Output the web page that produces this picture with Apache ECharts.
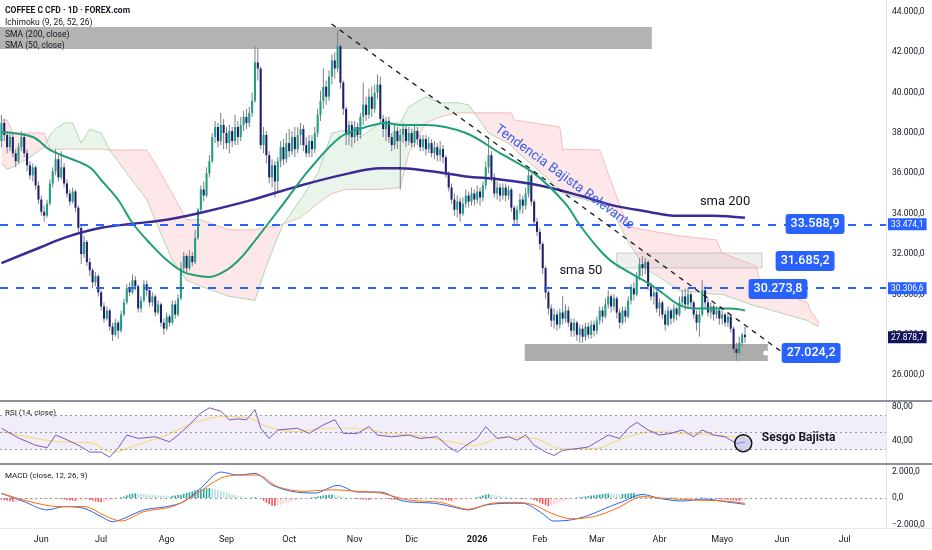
<!DOCTYPE html>
<html>
<head>
<meta charset="utf-8">
<script src="https://cdn.jsdelivr.net/npm/echarts@6.0.0/dist/echarts.min.js"></script>
<style>
html,body{margin:0;padding:0;background:#ffffff;}
#chart{width:932px;height:550px;}
</style>
</head>
<body>
<div id="chart"></div>
<script>
// ---------- calendar (daily trading sessions, weekdays) ----------
const firstDay = [2025, 4, 13];
const dayCount = 311;
const monthNames = ['Ene','Feb','Mar','Abr','Mayo','Jun','Jul','Ago','Sep','Oct','Nov','Dic'];

// ---------- price candles (thousands) ----------
const opens = [
37.6,38.5,37.9,37.3,37.8,37.0,36.6,37.3,37.8,37.0,
36.4,35.9,36.3,35.4,34.7,34.1,33.9,34.5,35.5,36.1,
36.7,35.8,36.3,35.5,35.0,34.6,35.1,34.3,33.3,32.0,
32.6,31.6,31.2,30.6,30.9,30.1,29.4,28.8,29.2,28.4,
28.0,28.6,28.2,29.0,29.6,30.3,30.1,30.7,30.4,29.3,
29.7,30.5,30.2,29.6,29.9,29.1,29.5,28.6,28.3,28.9,
28.6,29.5,29.0,29.8,31.3,31.9,31.3,31.9,31.6,32.8,
34.2,35.2,34.9,36.0,36.6,37.8,38.3,37.6,38.4,38.0,
37.5,38.1,37.6,38.3,37.8,38.4,38.8,38.5,39.0,39.6,
41.5,41.2,37.4,37.9,36.9,35.8,36.4,35.6,36.6,37.3,
36.7,37.5,37.1,37.8,37.2,37.9,38.2,37.4,37.0,37.6,
37.2,38.0,38.9,39.6,40.3,39.8,40.8,41.6,41.2,42.3,
40.5,39.2,37.9,38.4,37.8,38.3,37.9,38.8,39.4,38.9,
39.8,39.2,40.0,40.4,38.7,38.2,38.6,37.8,37.4,38.1,
37.6,37.9,38.2,37.6,38.0,37.5,38.1,37.7,37.3,37.7,
37.2,37.5,37.0,37.3,36.9,37.2,36.8,36.0,35.3,34.7,
34.2,34.6,34.0,34.5,34.9,34.6,35.0,34.7,35.1,34.8,
35.4,36.3,36.9,35.8,35.0,35.3,34.9,35.3,34.9,35.2,
34.3,33.7,34.2,34.7,34.4,35.0,35.9,34.6,33.6,33.1,
32.5,31.3,30.1,29.3,28.7,29.0,28.5,29.1,28.8,29.2,
28.6,28.2,28.6,28.0,28.3,27.9,28.4,28.0,28.5,28.2,
28.7,29.2,28.9,29.5,29.9,29.4,29.8,29.1,28.6,29.2,
28.9,29.7,30.3,30.0,30.9,31.5,31.3,31.6,30.4,29.9,
30.1,29.3,29.6,29.0,28.5,29.2,28.8,29.3,29.0,29.6,
29.9,29.5,30.0,29.6,29.0,28.6,29.0,30.2,29.6,29.1,
29.4,29.0,29.2,28.8,29.0,28.6,28.9,28.3,27.3,27.1,
27.6,28.0];
const closes = [
38.5,37.9,37.3,37.8,37.0,36.6,37.3,37.8,37.0,36.4,
35.9,36.3,35.4,34.7,34.1,33.9,34.5,35.5,36.1,36.7,
35.8,36.3,35.5,35.0,34.6,35.1,34.3,33.3,32.0,32.6,
31.6,31.2,30.6,30.9,30.1,29.4,28.8,29.2,28.4,28.0,
28.6,28.2,29.0,29.6,30.3,30.1,30.7,30.4,29.3,29.7,
30.5,30.2,29.6,29.9,29.1,29.5,28.6,28.3,28.9,28.6,
29.5,29.0,29.8,31.3,31.9,31.3,31.9,31.6,32.8,34.2,
35.2,34.9,36.0,36.6,37.8,38.3,37.6,38.4,38.0,37.5,
38.1,37.6,38.3,37.8,38.4,38.8,38.5,39.0,39.6,41.5,
41.2,37.4,37.9,36.9,35.8,36.4,35.6,36.6,37.3,36.7,
37.5,37.1,37.8,37.2,37.9,38.2,37.4,37.0,37.6,37.2,
38.0,38.9,39.6,40.3,39.8,40.8,41.6,41.2,42.3,40.5,
39.2,37.9,38.4,37.8,38.3,37.9,38.8,39.4,38.9,39.8,
39.2,40.0,40.4,38.7,38.2,38.6,37.8,37.4,38.1,37.6,
37.9,38.2,37.6,38.0,37.5,38.1,37.7,37.3,37.7,37.2,
37.5,37.0,37.3,36.9,37.2,36.8,36.0,35.3,34.7,34.2,
34.6,34.0,34.5,34.9,34.6,35.0,34.7,35.1,34.8,35.4,
36.3,36.9,35.8,35.0,35.3,34.9,35.3,34.9,35.2,34.3,
33.7,34.2,34.7,34.4,35.0,35.9,34.6,33.6,33.1,32.5,
31.3,30.1,29.3,28.7,29.0,28.5,29.1,28.8,29.2,28.6,
28.2,28.6,28.0,28.3,27.9,28.4,28.0,28.5,28.2,28.7,
29.2,28.9,29.5,29.9,29.4,29.8,29.1,28.6,29.2,28.9,
29.7,30.3,30.0,30.9,31.5,31.3,31.6,30.4,29.9,30.1,
29.3,29.6,29.0,28.5,29.2,28.8,29.3,29.0,29.6,29.9,
29.5,30.0,29.6,29.0,28.6,29.0,30.2,29.6,29.1,29.4,
29.0,29.2,28.8,29.0,28.6,28.9,28.3,27.3,27.1,27.6,
28.0,27.88];
const lows = [
37.3,37.6,37.0,37.1,36.8,36.3,36.5,37.1,36.8,36.1,
35.7,35.6,35.2,34.5,33.9,33.6,33.8,34.4,35.3,35.9,
35.6,35.7,35.3,34.8,34.4,34.5,34.1,33.1,31.5,31.8,
31.4,30.9,30.3,30.4,29.9,29.2,28.6,28.7,28.2,27.7,
27.9,27.8,28.1,28.9,29.5,29.9,30.0,30.2,29.1,29.1,
29.6,29.9,29.4,29.4,28.9,29.0,28.4,28.0,28.2,28.4,
28.5,28.8,28.9,29.7,31.1,31.1,31.2,31.4,31.5,32.7,
34.0,34.6,34.8,35.8,36.5,37.5,37.3,37.4,37.2,37.2,
37.0,37.3,37.4,37.4,37.6,38.1,38.2,38.3,38.8,39.5,
40.6,37.2,37.0,36.5,35.5,35.3,34.8,35.0,36.3,36.4,
36.5,36.8,36.9,36.8,37.0,37.4,37.1,36.8,36.8,36.8,
37.0,37.8,38.6,39.2,39.4,39.6,40.4,40.7,41.0,40.2,
38.9,37.4,37.4,37.3,37.5,37.6,37.7,38.4,38.6,38.7,
38.8,39.0,39.7,38.5,37.8,37.6,37.5,37.1,37.2,37.2,
35.2,37.5,37.3,37.4,37.3,37.3,37.4,37.1,37.1,36.9,
37.0,36.8,36.7,36.6,36.6,36.5,35.8,35.1,34.5,33.9,
33.8,33.6,33.9,34.3,34.3,34.4,34.4,34.5,34.4,34.6,
35.2,36.0,35.6,34.8,34.7,34.6,34.7,34.6,34.7,34.1,
33.4,33.5,34.0,34.0,34.2,34.8,34.4,33.4,32.9,32.2,
31.0,29.8,29.0,28.4,28.3,28.2,28.3,28.5,28.6,28.4,
27.9,27.9,27.7,27.6,27.6,27.7,27.8,27.8,27.9,28.0,
28.5,28.6,28.8,29.3,29.1,29.2,28.8,28.3,28.5,28.6,
28.8,29.5,29.7,29.9,30.7,30.9,31.0,30.2,29.7,29.5,
29.1,28.9,28.8,28.2,28.4,28.5,28.6,28.7,28.9,29.4,
29.2,29.3,29.3,28.8,28.2,27.9,28.9,29.3,28.9,28.8,
28.7,28.8,28.5,28.5,28.4,28.4,28.1,27.1,26.7,27.0,
27.4,27.6];
const highs = [
38.9,38.7,38.1,38.0,38.0,37.2,37.5,38.1,38.0,37.2,
36.6,36.5,36.4,35.6,34.9,34.4,34.7,35.7,36.3,37.2,
36.9,37.1,36.5,35.7,35.2,35.3,35.2,34.4,33.4,32.9,
32.7,31.8,31.3,31.1,31.0,30.2,29.6,29.4,29.3,28.6,
28.8,28.7,29.2,29.8,30.5,30.6,31.0,30.9,30.5,29.9,
30.7,30.7,30.3,30.1,30.0,29.7,29.6,28.8,29.1,29.0,
29.7,29.7,30.0,31.6,32.1,32.0,32.2,32.1,33.2,34.3,
35.4,35.6,36.3,36.9,38.0,38.6,38.5,39.0,38.7,38.3,
38.4,38.3,38.9,38.6,38.8,39.1,39.2,39.3,40.0,42.3,
42.2,41.3,38.3,38.1,37.1,36.7,36.6,36.8,37.6,37.7,
38.0,38.2,38.1,38.3,38.3,38.5,38.4,37.8,37.9,37.9,
38.3,39.2,40.1,41.2,40.6,41.1,41.9,42.0,43.1,42.4,
40.6,39.3,38.6,38.6,38.6,38.5,39.0,40.5,39.8,40.2,
40.3,40.4,40.9,40.8,38.9,38.8,38.8,38.0,38.4,38.3,
38.2,38.5,38.4,38.3,38.2,38.4,38.3,37.9,37.9,37.9,
37.8,37.7,37.6,37.5,37.6,37.4,36.9,36.1,35.5,35.0,
34.9,34.8,34.8,35.2,35.1,35.3,35.2,35.4,35.3,35.6,
36.6,37.7,37.1,36.0,35.6,35.5,35.5,35.5,35.4,35.3,
34.4,34.4,35.0,34.9,35.3,36.2,36.0,34.7,33.8,33.3,
32.6,31.4,30.2,29.5,29.3,29.2,29.3,29.9,29.5,29.4,
28.8,28.8,28.7,28.5,28.5,28.6,28.6,28.7,28.7,28.9,
29.4,29.4,29.8,30.2,30.0,30.0,29.9,29.3,29.4,29.4,
29.9,30.5,30.6,31.1,31.8,31.9,31.8,31.7,30.6,30.3,
30.2,29.8,29.7,29.2,29.4,29.3,29.5,29.4,29.9,30.2,
30.3,30.3,30.1,29.7,29.2,29.2,30.7,30.4,29.8,29.6,
29.5,29.4,29.3,29.2,29.1,29.1,29.0,28.4,27.6,27.9,
28.1,28.4];

// ---------- moving averages (session index, thousands) ----------
const sma200Idx = [0,14,23,35,46,58,70,87,105,122,133,140,151,163,175,189,203,215,227,236,250,261];
const sma200Val = [31.55,32.35,32.85,33.3,33.5,33.7,34.05,34.65,35.4,36.0,36.25,36.25,36.1,35.85,35.7,35.4,34.9,34.4,34.1,33.9,33.9,33.8];
const sma50Idx = [0,11,17,23,31,35,41,46,52,58,64,70,73,79,84,87,99,108,119,128,135,140,149,163,175,187,198,203,210,215,227,232,238,244,256,261];
const sma50Val = [38.05,37.8,37.16,36.8,36.3,35.67,34.68,33.54,32.55,31.7,31.1,30.9,30.86,31.2,31.8,32.3,34.5,36.17,37.8,38.3,38.5,38.4,38.4,38.0,37.0,36.0,34.5,33.44,32.2,31.55,30.56,30.07,29.47,29.3,29.3,29.2];

// ---------- Ichimoku cloud spans (session index, thousands) ----------
const cloudIdx = [0,2,4,10,15,16,17,19,22,25,28,31,35,38,44,51,56,60,65,70,80,89,92,96,99,105,111,116,121,126,133,140,143,149,154,160,164,166,171,179,180,196,197,210,215,220,226,238,251,253,265,267,273,283,284,287];
const spanA = [36.5,36.2,36.3,36.8,37.3,37.6,37.9,38.2,38.5,38.5,37.5,38.2,38.0,37.16,36.0,34.7,33.0,31.7,30.7,30.4,29.9,29.7,31.0,32.5,33.5,34.7,36.0,38.0,38.15,37.8,38.5,38.5,39.3,39.8,39.5,39.5,39.4,39.0,38.0,37.4,37.2,35.2,35.0,34.5,34.0,32.6,31.3,30.2,30.0,30.0,29.4,29.35,29.1,28.7,28.6,28.4];
const spanB = [38.65,38.65,38.0,38.0,38.0,37.6,37.2,37.2,37.2,37.2,37.2,37.2,37.2,37.16,37.16,37.16,36.0,35.0,33.7,33.7,33.2,33.2,33.3,33.4,33.5,33.8,34.5,35.0,35.2,35.2,35.2,35.3,37.0,38.5,38.8,39.0,39.0,39.0,39.0,39.0,38.65,38.3,37.2,37.16,35.2,33.35,33.2,32.9,32.7,32.05,31.4,30.2,30.1,29.6,29.2,28.6];

// ---------- RSI ----------
const rsiIdx = [0,6,12,16,19,22,27,31,35,38,41,44,48,54,59,62,66,70,73,77,80,83,86,89,91,94,97,104,108,113,117,120,125,129,132,137,143,147,153,157,160,164,167,170,174,178,181,184,187,191,194,197,202,206,210,213,217,220,223,227,231,235,239,243,246,250,254,258,261];
const rsiVal = [55,43.5,35,32,47,43,35,27,27,21,32,47,43,45,39,47,59,73,79,75,65,66,65,77,55,43,53,55,49,59,65,49,49,57,47,45,47,43,45,33,27,37,43,57,43,45,41,47,35,27,23,29,31,33,41,47,43,55,62,53,47,49,53,45,53,47,45,37,39];
const rsiMaIdx = [0,12,20,31,39,47,58,68,79,87,93,104,114,125,135,145,158,166,177,187,197,208,218,229,239,250,261];
const rsiMaVal = [51,43,39,38,27,35,47,62,69,67,57,51,55,55,49,47,39,35,45,43,31,31,43,51,49,47,43];

// ---------- MACD ----------
const macdIdx = [0,8,16,22,29,35,39,43,50,58,64,70,77,83,89,95,102,110,118,125,133,141,152,158,164,170,177,183,189,194,200,206,212,218,225,231,239,247,254,261];
const macdVal = [350,-280,-900,-650,-780,-1400,-1790,-1540,-900,-650,-280,750,1960,1730,1850,980,500,370,950,450,450,-230,-400,-650,-900,-530,-400,-400,-1030,-1740,-1650,-1320,-780,-280,270,-30,-230,-80,-280,-480];
const signalIdx = [0,10,20,29,37,42,50,60,68,77,83,90,97,106,116,125,133,143,154,164,172,181,187,193,200,208,216,225,233,243,254,261];
const signalVal = [350,-280,-650,-650,-1400,-1740,-1030,-650,250,1500,1730,1730,850,500,620,500,370,-150,-330,-850,-400,-330,-530,-1150,-1570,-1400,-780,100,-30,-150,-230,-400];
const histVal = [
-120,-150,-200,-250,-280,-260,-240,-220,-200,-180,-160,-150,-130,
-100,-90,-80,-60,-50,-40,-30,
-50,-80,-120,-150,-180,-200,-220,-200,-180,
-150,-120,-150,-200,-250,-300,-320,-300,
-250,-200,-150,-80,-20,
50,120,200,280,330,350,340,320,300,280,260,240,220,
200,190,180,170,160,170,190,230,
250,320,380,440,500,560,610,660,700,730,750,
720,670,610,540,470,400,340,280,220,170,120,80,50,20,
30,60,40,-50,
-200,-350,-480,-580,-600,-560,-500,-440,-380,-320,-260,-200,-150,
-100,-60,-20,20,50,80,
120,160,200,230,250,260,250,
200,150,100,60,30,0,
-50,-80,-100,-120,-140,-150,-140,-120,-100,-80,-60,-80,-100,-120,-140,-150,-140,-120,-100,-80,
-60,-80,-100,-90,-70,-60,-50,-60,-80,-100,-120,-140,-160,-180,-200,-190,-170,-150,-120,-90,-60,-30,10,
60,120,180,240,290,270,230,
190,150,120,90,60,40,20,
-20,-40,-60,-50,-40,-80,-150,
-250,-350,-450,-550,-620,-580,
-500,-420,-340,-260,-190,-120,-60,-20,
30,60,90,120,150,180,210,240,270,300,330,350,340,320,300,290,300,320,340,360,370,350,300,
240,180,120,60,20,
-30,-50,-40,-20,10,30,40,30,10,-20,-40,-50,-40,-20,20,40,60,50,30,10,-20,-50,-80,-100,-120,-140,-160,-180,-200,-210,-200,-180];

// ---------- axis ticks / levels ----------
const priceTicks = [26,28,30,32,34,36,38,40,42,44];
const lastPrice = 27.8787;
const levelLines = [33.4741, 30.3066];
const rsiTicks = [40, 80];
const macdTicks = [-2000, 0, 2000];

// ---------- annotations (session index, price in thousands) ----------
const zoneFrom = [-0.5, 183.7, 216];
const zoneTo   = [228.3, 269, 267];
const zoneLow  = [42.17, 26.70, 31.31];
const zoneHigh = [43.26, 27.54, 32.05];
const trendFrom = [115.9, 43.405];
const trendTo   = [273.8, 27.158];
const tagValues = [33588.9, 31685.2, 30273.8, 27024.2];
const tagIdx    = [285.6, 282.1, 272.6, 284.2];
const tagPrice  = [33.49, 31.655, 30.267, 27.094];
const noteTexts = ['sma 200', 'sma 50'];
const noteIdx   = [254, 203.4];
const notePrice = [34.595, 31.17];
const trendText = 'Tendencia Bajista Relevante';
const trendTextAt = [197.6, 35.8];
const dotAt = [268.3, 27.09];
const biasText = 'Sesgo Bajista';
const biasTextAt = [266.9, 44.1];
const biasCircleAt = [260.4, 37.4];

// ---------- helpers ----------
const dates = [];
(function () {
  let t = Date.UTC(firstDay[0], firstDay[1], firstDay[2]);
  while (dates.length < dayCount) {
    const d = new Date(t);
    const wd = d.getUTCDay();
    if (wd !== 0 && wd !== 6) dates.push(d.toISOString().slice(0, 10));
    t += 86400000;
  }
})();
function fmtNum(v, dec) {
  const neg = v < -1e-9;
  const s = Math.abs(v).toFixed(dec);
  const parts = s.split('.');
  const ip = parts[0].replace(/\B(?=(\d{3})+(?!\d))/g, '.');
  return (neg ? '\u2212' : '') + ip + (dec ? ',' + parts[1] : '');
}
function pairs(idx, val) { return idx.map((x, k) => [x, val[k]]); }
function isMonthStart(i) { return i > 0 && dates[i].slice(5, 7) !== dates[i - 1].slice(5, 7); }
function fx(api, x, y) {
  const i = Math.min(Math.max(Math.floor(x), 0), dayCount - 1);
  const p = api.coord([i, y]);
  const w = api.size([1, 0])[0];
  return [p[0] + (x - i) * w, p[1]];
}
const FONT = 'Roboto, "Liberation Sans", Arial, sans-serif';
const TXT = '#131722';

const candleData = opens.map((o, i) => [i, o, closes[i], lows[i], highs[i]]);
const cloudSegs = [];
for (let k = 0; k < cloudIdx.length - 1; k++) {
  cloudSegs.push([cloudIdx[k], spanA[k], spanB[k], cloudIdx[k + 1], spanA[k + 1], spanB[k + 1]]);
}
const zoneData = zoneFrom.map((f, k) => [f, zoneTo[k], zoneLow[k], zoneHigh[k], k]);
const zoneStyles = [
  { fill: 'rgba(128,128,128,0.6)' },
  { fill: 'rgba(128,128,128,0.65)' },
  { fill: 'rgba(190,190,190,0.25)', stroke: 'rgba(170,170,170,0.55)', lineWidth: 1 }
];

const option = {
  animation: false,
  backgroundColor: '#ffffff',
  grid: [
    { left: 0, right: 46, top: 0, height: 401 },
    { left: 0, right: 46, top: 402, height: 61 },
    { left: 0, right: 46, top: 465, height: 63 }
  ],
  xAxis: [0, 1, 2].map(g => ({
    type: 'category', gridIndex: g, data: dates, boundaryGap: true,
    axisLine: { show: false }, axisTick: { show: false }, splitLine: { show: false },
    axisPointer: { show: false },
    axisLabel: g < 2 ? { show: false } : {
      show: true,
      interval: (i) => isMonthStart(i),
      formatter: (v) => {
        const m = +v.slice(5, 7) - 1;
        return m === 0 ? '{y|' + v.slice(0, 4) + '}' : monthNames[m];
      },
      color: TXT, fontSize: 9, fontFamily: FONT, margin: 7,
      rich: { y: { fontWeight: 'bold', fontSize: 9, color: TXT, fontFamily: FONT } }
    }
  })),
  yAxis: [
    { type: 'value', gridIndex: 0, position: 'right', min: 24.714, max: 44.595,
      axisLine: { show: true, lineStyle: { color: '#e0e3eb' } }, axisTick: { show: false }, splitLine: { show: false },
      axisLabel: { customValues: priceTicks, formatter: v => fmtNum(v * 1000, 1), color: TXT, fontSize: 8.5, fontFamily: FONT, margin: 6 } },
    { type: 'value', gridIndex: 0, position: 'right', min: 24.714, max: 44.595,
      axisLine: { show: false }, axisTick: { show: false }, splitLine: { show: false },
      axisLabel: { customValues: [lastPrice].concat(levelLines), margin: 2, fontSize: 8.5, fontFamily: FONT,
        formatter: v => (Math.abs(v - lastPrice) < 1e-6 ? '{n|' : '{b|') + fmtNum(v * 1000, 1) + '}',
        rich: {
          n: { backgroundColor: '#14135a', color: '#ffffff', padding: [2, 3, 1, 3], fontSize: 8.5, fontFamily: FONT },
          b: { backgroundColor: '#2962ff', color: '#ffffff', padding: [2, 3, 1, 3], fontSize: 8.5, fontFamily: FONT }
        } } },
    { type: 'value', gridIndex: 1, position: 'right', min: 14.12, max: 85.88,
      axisLine: { show: true, lineStyle: { color: '#e0e3eb' } }, axisTick: { show: false }, splitLine: { show: false },
      axisLabel: { customValues: rsiTicks, formatter: v => fmtNum(v, 2), color: TXT, fontSize: 8.5, fontFamily: FONT, margin: 6 } },
    { type: 'value', gridIndex: 2, position: 'right', min: -2264, max: 2491,
      axisLine: { show: true, lineStyle: { color: '#e0e3eb' } }, axisTick: { show: false }, splitLine: { show: false },
      axisLabel: { customValues: macdTicks, formatter: v => fmtNum(v, 1), color: TXT, fontSize: 8.5, fontFamily: FONT, margin: 6 } }
  ],
  graphic: [
    { type: 'text', left: 5, top: 6, z: 100, style: { text: 'COFFEE C CFD \u00b7 1D \u00b7 FOREX.com', fill: TXT, font: 'bold 8.5px ' + FONT } },
    { type: 'text', left: 5, top: 18, z: 100, style: { text: 'Ichimoku (9, 26, 52, 26)', fill: TXT, font: '8.5px ' + FONT } },
    { type: 'text', left: 5, top: 30, z: 100, style: { text: 'SMA (200, close)', fill: TXT, font: '8.5px ' + FONT } },
    { type: 'text', left: 5, top: 41, z: 100, style: { text: 'SMA (50, close)', fill: TXT, font: '8.5px ' + FONT } },
    { type: 'text', left: 5, top: 409, z: 100, style: { text: 'RSI (14, close)', fill: TXT, font: '8px ' + FONT } },
    { type: 'text', left: 5, top: 472, z: 100, style: { text: 'MACD (close, 12, 26, 9)', fill: TXT, font: '8px ' + FONT } },
    { type: 'rect', z: 100, shape: { x: 0, y: 400, width: 932, height: 2 }, style: { fill: '#8f929b' } },
    { type: 'rect', z: 100, shape: { x: 0, y: 463, width: 932, height: 2 }, style: { fill: '#8f929b' } },
    { type: 'line', z: 100, shape: { x1: 0, y1: 528.5, x2: 932, y2: 528.5 }, style: { stroke: '#e6e8ee', lineWidth: 1 } }
  ],
  series: [
    // Ichimoku cloud
    { type: 'custom', xAxisIndex: 0, yAxisIndex: 0, z: 1, silent: true, clip: true,
      data: cloudSegs, encode: { x: [0, 3], y: [1, 2, 4, 5] },
      renderItem: (p, api) => {
        const i0 = api.value(0), a0 = api.value(1), b0 = api.value(2), i1 = api.value(3), a1 = api.value(4), b1 = api.value(5);
        const A0 = api.coord([i0, a0]), A1 = api.coord([i1, a1]), B0 = api.coord([i0, b0]), B1 = api.coord([i1, b1]);
        const G = 'rgba(76,175,80,0.12)', R = 'rgba(242,54,69,0.12)';
        const d0 = a0 - b0, d1 = a1 - b1;
        if (d0 * d1 < 0) {
          const t = d0 / (d0 - d1);
          const M = [A0[0] + t * (A1[0] - A0[0]), A0[1] + t * (A1[1] - A0[1])];
          return { type: 'group', children: [
            { type: 'polygon', shape: { points: [A0, M, B0] }, style: { fill: d0 > 0 ? G : R } },
            { type: 'polygon', shape: { points: [M, A1, B1] }, style: { fill: d1 > 0 ? G : R } }
          ] };
        }
        return { type: 'polygon', shape: { points: [A0, A1, B1, B0] }, style: { fill: (d0 + d1) >= 0 ? G : R } };
      } },
    { type: 'line', name: 'spanA', xAxisIndex: 0, yAxisIndex: 0, z: 1, silent: true, symbol: 'none',
      data: pairs(cloudIdx, spanA), lineStyle: { color: 'rgba(120,190,125,0.55)', width: 1 } },
    { type: 'line', name: 'spanB', xAxisIndex: 0, yAxisIndex: 0, z: 1, silent: true, symbol: 'none',
      data: pairs(cloudIdx, spanB), lineStyle: { color: 'rgba(235,120,120,0.45)', width: 1 } },
    // zones
    { type: 'custom', xAxisIndex: 0, yAxisIndex: 0, z: 2, silent: true, clip: true,
      data: zoneData, encode: { x: [0, 1], y: [2, 3] },
      renderItem: (p, api) => {
        const a = fx(api, api.value(0), api.value(3));
        const b = fx(api, api.value(1), api.value(2));
        return { type: 'rect', shape: { x: a[0], y: a[1], width: b[0] - a[0], height: b[1] - a[1] }, style: zoneStyles[api.value(4)] };
      } },
    // candles
    { type: 'custom', name: 'price', xAxisIndex: 0, yAxisIndex: 0, z: 3, silent: true, clip: true,
      data: candleData, encode: { x: 0, y: [1, 2, 3, 4] },
      renderItem: (p, api) => {
        const i = api.value(0), o = api.value(1), c = api.value(2), l = api.value(3), h = api.value(4);
        const pO = api.coord([i, o]), pC = api.coord([i, c]), pL = api.coord([i, l]), pH = api.coord([i, h]);
        const bw = api.size([1, 0])[0] * 0.72;
        const top = Math.min(pO[1], pC[1]);
        const ht = Math.max(1, Math.abs(pO[1] - pC[1]));
        return { type: 'group', children: [
          { type: 'line', shape: { x1: pH[0], y1: pH[1], x2: pL[0], y2: pL[1] }, style: { stroke: '#7c7f8a', lineWidth: 1 } },
          { type: 'rect', shape: { x: pO[0] - bw / 2, y: top, width: bw, height: ht }, style: { fill: c >= o ? '#1f9e82' : '#1e1d6c' } }
        ] };
      } },
    // SMA 200 with horizontal levels
    { type: 'line', name: 'sma200', xAxisIndex: 0, yAxisIndex: 0, z: 4, silent: true, symbol: 'none', smooth: 0.35,
      data: pairs(sma200Idx, sma200Val), lineStyle: { color: '#3a2b97', width: 2.5 },
      markLine: { silent: true, symbol: ['none', 'none'], label: { show: false },
        lineStyle: { color: '#2962ff', width: 2, type: [8, 8] },
        data: levelLines.map(v => ({ yAxis: v })) } },
    { type: 'line', name: 'sma50', xAxisIndex: 0, yAxisIndex: 0, z: 4, silent: true, symbol: 'none', smooth: 0.35,
      data: pairs(sma50Idx, sma50Val), lineStyle: { color: '#1f9f77', width: 2 } },
    // trend line + texts
    { type: 'custom', xAxisIndex: 0, yAxisIndex: 0, z: 6, silent: true, clip: true,
      data: [[trendFrom[0], trendFrom[1], trendTo[0], trendTo[1]]], encode: { x: [0, 2], y: [1, 3] },
      renderItem: (p, api) => {
        const a = fx(api, api.value(0), api.value(1));
        const b = fx(api, api.value(2), api.value(3));
        return { type: 'line', shape: { x1: a[0], y1: a[1], x2: b[0], y2: b[1] }, style: { stroke: '#1a1a1a', lineWidth: 1.3, lineDash: [5, 5] } };
      } },
    { type: 'custom', xAxisIndex: 0, yAxisIndex: 0, z: 8, silent: true,
      data: tagValues.map((v, k) => [tagIdx[k], tagPrice[k], k]), encode: { x: 0, y: 1 },
      renderItem: (p, api) => {
        const pt = fx(api, api.value(0), api.value(1));
        const k = api.value(2);
        return { type: 'text', x: pt[0], y: pt[1], style: {
          text: fmtNum(tagValues[k], 1), fill: '#ffffff', font: '500 12.5px ' + FONT,
          align: 'center', verticalAlign: 'middle', backgroundColor: '#2962ff', padding: [4, 5, 3, 5], borderRadius: 3 } };
      } },
    { type: 'custom', xAxisIndex: 0, yAxisIndex: 0, z: 8, silent: true,
      data: noteTexts.map((t, k) => [noteIdx[k], notePrice[k], k]), encode: { x: 0, y: 1 },
      renderItem: (p, api) => {
        const pt = fx(api, api.value(0), api.value(1));
        return { type: 'text', x: pt[0], y: pt[1], style: {
          text: noteTexts[api.value(2)], fill: TXT, font: '13px ' + FONT, align: 'center', verticalAlign: 'middle' } };
      } },
    { type: 'custom', xAxisIndex: 0, yAxisIndex: 0, z: 8, silent: true,
      data: [[trendTextAt[0], trendTextAt[1], dotAt[0], dotAt[1]]], encode: { x: [0, 2], y: [1, 3] },
      renderItem: (p, api) => {
        const pt = fx(api, api.value(0), api.value(1));
        const dp = fx(api, api.value(2), api.value(3));
        return { type: 'group', children: [
          { type: 'text', x: pt[0], y: pt[1], rotation: -36 * Math.PI / 180, style: {
            text: trendText, fill: '#3b62e8', font: '13.5px ' + FONT, align: 'center', verticalAlign: 'middle' } },
          { type: 'circle', shape: { cx: dp[0], cy: dp[1], r: 2.5 }, style: { fill: '#ffffff' } }
        ] };
      } },
    // RSI
    { type: 'line', name: 'rsi', xAxisIndex: 1, yAxisIndex: 2, z: 4, silent: true, symbol: 'none',
      data: pairs(rsiIdx, rsiVal), lineStyle: { color: '#7e57c2', width: 1 },
      markArea: { silent: true, itemStyle: { color: 'rgba(126,87,194,0.10)' }, data: [[{ yAxis: 30 }, { yAxis: 70 }]] },
      markLine: { silent: true, symbol: ['none', 'none'], label: { show: false },
        lineStyle: { color: '#9598a1', width: 1, type: [2, 3] },
        data: [{ yAxis: 70 }, { yAxis: 50 }, { yAxis: 30 }] } },
    { type: 'line', name: 'rsiMa', xAxisIndex: 1, yAxisIndex: 2, z: 3, silent: true, symbol: 'none', smooth: 0.4,
      data: pairs(rsiMaIdx, rsiMaVal), lineStyle: { color: '#f4dd86', width: 1.2 } },
    { type: 'custom', xAxisIndex: 1, yAxisIndex: 2, z: 8, silent: true,
      data: [[biasCircleAt[0], biasCircleAt[1], biasTextAt[0], biasTextAt[1]]], encode: { x: [0, 2], y: [1, 3] },
      renderItem: (p, api) => {
        const c = fx(api, api.value(0), api.value(1));
        const t = fx(api, api.value(2), api.value(3));
        return { type: 'group', children: [
          { type: 'circle', shape: { cx: c[0], cy: c[1], r: 8.5 }, style: { fill: 'rgba(170,178,225,0.45)', stroke: '#111111', lineWidth: 1.5 } },
          { type: 'text', x: t[0], y: t[1], style: { text: biasText, fill: TXT, font: 'bold 12px ' + FONT, align: 'left', verticalAlign: 'middle' } }
        ] };
      } },
    // MACD
    { type: 'bar', name: 'hist', xAxisIndex: 2, yAxisIndex: 3, z: 2, silent: true, barWidth: '55%',
      data: histVal,
      itemStyle: { color: (p) => {
        const v = histVal[p.dataIndex], pv = p.dataIndex > 0 ? histVal[p.dataIndex - 1] : v;
        if (v >= 0) return v >= pv ? '#26a69a' : '#b2dfdb';
        return v <= pv ? '#ff5252' : '#ffcdd2';
      } } },
    { type: 'line', name: 'macd', xAxisIndex: 2, yAxisIndex: 3, z: 4, silent: true, symbol: 'none', smooth: 0.3,
      data: pairs(macdIdx, macdVal), lineStyle: { color: '#2962ff', width: 1 },
      markLine: { silent: true, symbol: ['none', 'none'], label: { show: false },
        lineStyle: { color: '#9598a1', width: 1, type: [2, 3] }, data: [{ yAxis: 0 }] } },
    { type: 'line', name: 'signal', xAxisIndex: 2, yAxisIndex: 3, z: 4, silent: true, symbol: 'none', smooth: 0.3,
      data: pairs(signalIdx, signalVal), lineStyle: { color: '#ff6d00', width: 1 } }
  ]
};

const chart = echarts.init(document.getElementById('chart'), null, { renderer: 'canvas' });
chart.setOption(option);
</script>
</body>
</html>
